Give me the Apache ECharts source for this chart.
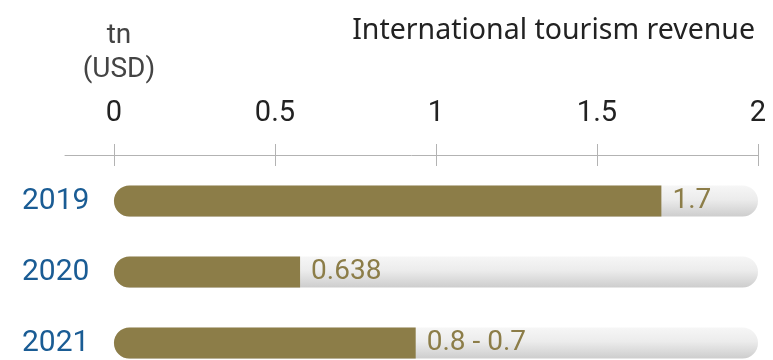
<!DOCTYPE html>
<html>
<head>
<meta charset="utf-8">
<script src="https://cdn.jsdelivr.net/npm/echarts@6/dist/echarts.min.js"></script>
<style>
html,body{margin:0;padding:0;background:#fff;}
#chart{width:773px;height:360px;}
</style>
</head>
<body>
<div id="chart"></div>
<script>
const categories = ['2019', '2020', '2021'];
const barValues = [1.7, 0.578, 0.937];
const barLabels = ['1.7', '0.638', '0.8 - 0.7'];
const tickValues = [0, 0.5, 1, 1.5, 2];
const axisMin = -0.152;
const axisMax = 2;
const titleText = 'International tourism revenue';
const unitText = 'tn\n(USD)';

const FONT = 'Roboto';
const OLIVE = '#8c7d48';

const chart = echarts.init(document.getElementById('chart'), null, {renderer: 'canvas'});
const xBase = {
  type: 'value', position: 'top', min: axisMin, max: axisMax, offset: 46,
  splitLine: {show: false}
};
chart.setOption({
  animation: false,
  title: [
    {text: titleText, right: 13, top: 11,
     textStyle: {fontFamily: 'Noto Sans', fontSize: 28.5, fontWeight: 'normal', color: '#222'}},
    {text: unitText, left: 114, textAlign: 'center', top: 14,
     textStyle: {fontFamily: FONT, fontSize: 28, fontWeight: 'normal', color: '#444', lineHeight: 34}}
  ],
  grid: {left: 65, right: 15, top: 201, bottom: 17, containLabel: false},
  xAxis: [
    Object.assign({}, xBase, {
      axisLine: {show: true, lineStyle: {color: '#b3b3b3', width: 1}},
      axisTick: {show: true, length: 11, customValues: tickValues, lineStyle: {color: '#b3b3b3', width: 1}},
      axisLabel: {show: true, customValues: tickValues, margin: 27, fontFamily: FONT, fontSize: 29, color: '#222'}
    }),
    Object.assign({}, xBase, {
      axisLine: {show: false},
      axisTick: {show: true, inside: true, length: 11, customValues: tickValues, lineStyle: {color: '#b3b3b3', width: 1}},
      axisLabel: {show: false}
    })
  ],
  yAxis: {
    type: 'category', data: categories, inverse: true, boundaryGap: false,
    axisLine: {show: false}, axisTick: {show: false}, splitLine: {show: false},
    axisLabel: {align: 'left', margin: 43, fontFamily: FONT, fontSize: 30, color: '#1a5c94'}
  },
  series: [
    {
      type: 'bar', xAxisIndex: 0, barWidth: 31, barGap: '-100%', silent: true,
      data: categories.map(() => axisMax),
      itemStyle: {
        borderRadius: 15.5,
        color: new echarts.graphic.LinearGradient(0, 0, 0, 1, [
          {offset: 0, color: '#f6f6f6'},
          {offset: 0.45, color: '#ececec'},
          {offset: 1, color: '#cdcdcd'}
        ])
      }
    },
    {
      type: 'bar', xAxisIndex: 0, barWidth: 31, barGap: '-100%',
      data: barValues,
      itemStyle: {color: OLIVE, borderRadius: [15.5, 0, 0, 15.5]},
      label: {
        show: true, position: 'right', distance: 11,
        fontFamily: FONT, fontSize: 28, color: OLIVE,
        formatter: p => barLabels[p.dataIndex]
      }
    }
  ]
});
</script>
</body>
</html>
